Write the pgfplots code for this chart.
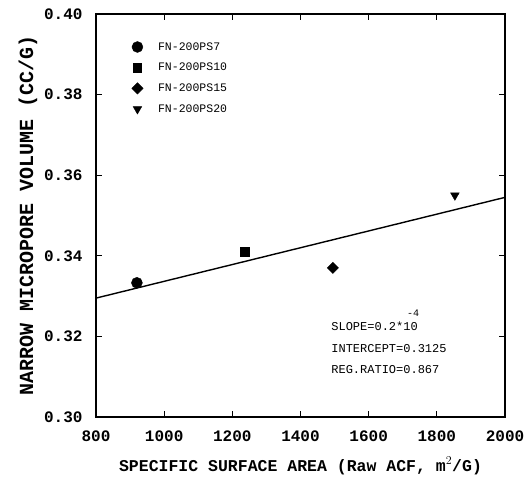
\documentclass[border=0pt]{standalone}
\usepackage{fontspec}
\setmainfont{Liberation Mono}
\usepackage{pgfplots}
\pgfplotsset{compat=1.18}
\begin{document}
\begin{tikzpicture}
\begin{axis}[
  scale only axis,
  width=409pt, height=403pt,
  xmin=800, xmax=2000, ymin=0.30, ymax=0.40,
  xtick={800,1000,...,2000},
  ytick={0.30,0.32,...,0.401},
  tick align=inside,
  xtick pos=both, ytick pos=both,
  major tick length=6pt,
  axis line style={line width=1.1pt},
  every tick/.style={line width=1pt,black},
  /pgf/number format/assume math mode=true,
  yticklabel style={/pgf/number format/fixed,/pgf/number format/fixed zerofill,/pgf/number format/precision=2},
  xticklabel style={/pgf/number format/set thousands separator={}},
  tick label style={font=\fontsize{16}{16}\selectfont\bfseries},
  xticklabel style={yshift=-10pt},
  yticklabel style={xshift=-10pt},
  xlabel={SPECIFIC SURFACE AREA (Raw ACF, m$^{2}$/G)},
  ylabel={NARROW MICROPORE VOLUME (CC/G)},
  xlabel style={font=\fontsize{16.5}{16.5}\selectfont\bfseries, yshift=-9pt},
  ylabel style={font=\fontsize{20}{20}\selectfont\bfseries, yshift=0pt},
  legend style={draw=none, fill=none, at={(rel axis cs:0.087,0.935)}, anchor=north west,
    font=\fontsize{11.5}{11.5}\selectfont, row sep=7.5pt, column sep=13pt, inner sep=0pt},
  legend cell align=left,
]
\addplot[only marks, mark=*, mark size=5.5pt, black] coordinates {(920,0.3333)};
\addlegendentry{FN-200PS7}
\addplot[only marks, mark=square*, mark size=4.2pt, black] coordinates {(1236,0.3410)};
\addlegendentry{FN-200PS10}
\addplot[only marks, mark=square*, mark size=4pt, mark options={rotate=45}, black] coordinates {(1495,0.3370)};
\addlegendentry{FN-200PS15}
\addplot[only marks, mark=triangle*, mark size=5pt, mark options={rotate=180}, black] coordinates {(1853,0.3550)};
\addlegendentry{FN-200PS20}
\addplot[black, line width=1.4pt, forget plot] coordinates {(800,0.3295) (2000,0.3545)};
\node[anchor=west, font=\fontsize{12}{12}\selectfont, inner sep=0pt] at (axis cs:1490,0.3225) {SLOPE=0.2*10};
\node[anchor=west, font=\fontsize{10}{10}\selectfont, inner sep=0pt] at (axis cs:1712,0.3258) {-4};
\node[anchor=west, font=\fontsize{12}{12}\selectfont, inner sep=0pt] at (axis cs:1490,0.3170) {INTERCEPT=0.3125};
\node[anchor=west, font=\fontsize{12}{12}\selectfont, inner sep=0pt] at (axis cs:1490,0.3117) {REG.RATIO=0.867};
\end{axis}
\pgfresetboundingbox
\path (current axis.south west) ++(-96pt,-63pt) coordinate (bl);
\path (current axis.north east) ++(22pt,14pt) coordinate (tr);
\useasboundingbox (bl) rectangle (tr);
\end{tikzpicture}
\end{document}
